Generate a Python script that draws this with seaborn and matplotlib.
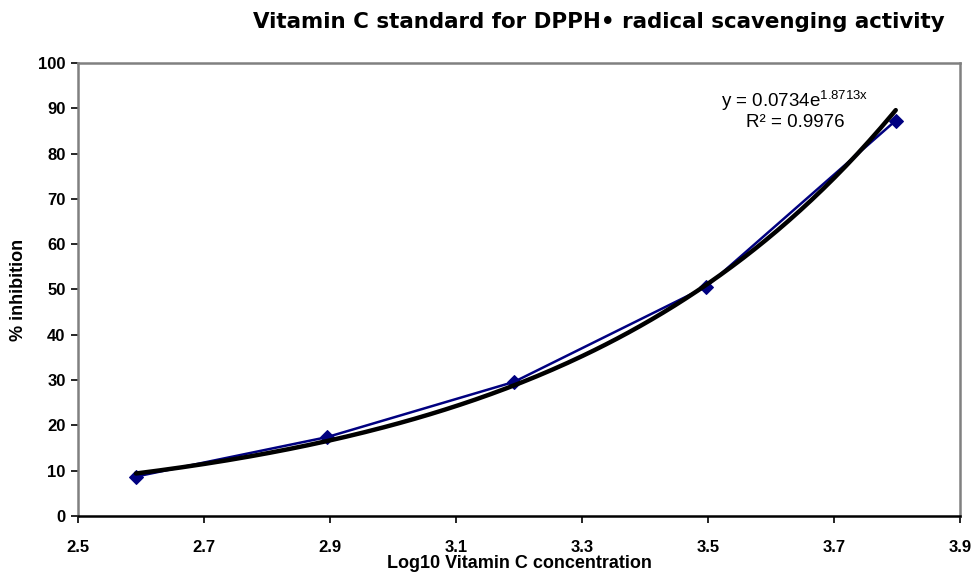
import numpy as np
import pandas as pd
import matplotlib
matplotlib.use("Agg")
import matplotlib.pyplot as plt
import seaborn as sns

# Data
log_conc = [2.592, 2.895, 3.192, 3.497, 3.798]
inhibition = [8.7, 17.4, 29.6, 50.6, 87.3]
trend_a = 0.0734
trend_b = 1.8713
x_ticks = [2.5, 2.7, 2.9, 3.1, 3.3, 3.5, 3.7, 3.9]
y_ticks = [0, 10, 20, 30, 40, 50, 60, 70, 80, 90, 100]

sns.set_theme(style="white")
plt.rcParams['font.family'] = ['Liberation Sans', 'DejaVu Sans']
plt.rcParams['text.color'] = 'black'
plt.rcParams['axes.labelcolor'] = 'black'
plt.rcParams['xtick.color'] = 'black'
plt.rcParams['ytick.color'] = 'black'
plt.rcParams['mathtext.fontset'] = 'custom'
plt.rcParams['mathtext.rm'] = 'Liberation Sans'

fig = plt.figure(figsize=(9.78, 5.76), dpi=100)
ax = fig.add_axes([0.0798, 0.1042, 0.9018, 0.7864])

df = pd.DataFrame({"x": log_conc, "y": inhibition})
sns.lineplot(data=df, x="x", y="y", ax=ax, color="#000080", linewidth=1.8,
             marker="D", markersize=7, markeredgecolor="#000080", zorder=3)

tx = np.linspace(min(log_conc), max(log_conc), 200)
ty = trend_a * np.exp(trend_b * tx)
sns.lineplot(x=tx, y=ty, ax=ax, color="black", linewidth=3.2, zorder=4)

ax.set_xlim(2.5, 3.9)
ax.set_ylim(0, 100)
ax.set_xticks(x_ticks)
ax.set_yticks(y_ticks)
ax.set_xticklabels([f"{v:.1f}" for v in x_ticks], fontsize=12, fontweight="bold")
ax.set_yticklabels([str(v) for v in y_ticks], fontsize=12, fontweight="bold")
ax.tick_params(axis="both", direction="out", length=5, width=1.2, color="black",
               bottom=True, left=True, pad=4)
ax.tick_params(axis="x", pad=12)

for s in ["left", "top", "right"]:
    ax.spines[s].set_color("#808080")
    ax.spines[s].set_linewidth(1.8)
ax.spines["bottom"].set_color("black")
ax.spines["bottom"].set_linewidth(1.8)

ax.set_xlabel("Log10 Vitamin C concentration", fontsize=13, fontweight="bold", labelpad=0)
ax.set_ylabel("% inhibition", fontsize=13, fontweight="bold", labelpad=8)

ax.text(3.638, 91.6, r"y = 0.0734e$^{\mathrm{1.8713x}}$", ha="center", va="center", fontsize=13.5)
ax.text(3.638, 86.9, "R² = 0.9976", ha="center", va="center", fontsize=13.5)

fig.text(0.9663, 0.962, "Vitamin C standard for DPPH• radical scavenging activity",
         ha="right", va="center", fontsize=15.4, fontweight="bold",
         family=["DejaVu Sans"])

fig.savefig("out.png", dpi=100, facecolor="white")
